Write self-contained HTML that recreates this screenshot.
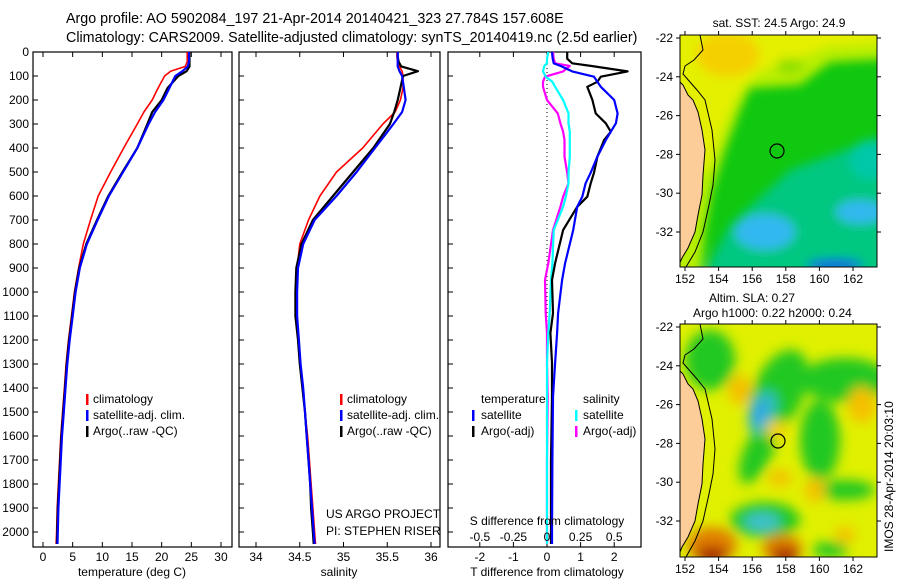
<!DOCTYPE html>
<html><head><meta charset="utf-8">
<style>
html,body{margin:0;padding:0;background:#fff;}
svg{display:block;font-family:"Liberation Sans",sans-serif;}
text{fill:#000;}
</style></head>
<body>
<svg id="fig" width="900" height="580" viewBox="0 0 900 580" xmlns="http://www.w3.org/2000/svg">
<defs>
<filter id="blur1" x="-50%" y="-50%" width="200%" height="200%"><feGaussianBlur stdDeviation="5"/></filter>
<filter id="blur2" x="-50%" y="-50%" width="200%" height="200%"><feGaussianBlur stdDeviation="6"/></filter>
<clipPath id="clipM1"><rect x="680" y="35" width="197" height="232"/></clipPath>
<clipPath id="clipM2"><rect x="680" y="324" width="197" height="233"/></clipPath>
</defs>
<text x="66" y="23" font-size="14.3">Argo profile: AO 5902084_197 21-Apr-2014 20140421_323 27.784S 157.608E</text>
<text x="66" y="42" font-size="14.3">Climatology: CARS2009. Satellite-adjusted climatology: synTS_20140419.nc (2.5d earlier)</text>

<g id="panels"></g>

<!-- Map 1: SST -->
<g>
<g clip-path="url(#clipM1)">
<rect x="680" y="35" width="197" height="232" fill="#10c810"/>
<g filter="url(#blur1)">
<polygon points="660,0 900,0 900,58 830,62 800,85 750,88 740,110 725,150 712,190 705,230 700,280 660,280" fill="#b8ee00"/>
<polygon points="660,0 900,0 900,42 830,46 790,62 760,72 745,85 735,100 722,130 708,170 660,170" fill="#e4f000"/>
<ellipse cx="728" cy="55" rx="32" ry="22" fill="#f5d000"/>
<ellipse cx="790" cy="66" rx="14" ry="8" fill="#90e000"/>
<polygon points="790,170 900,130 900,280 700,280 730,225" fill="#00c880"/>
<ellipse cx="765" cy="232" rx="30" ry="18" fill="#30b8f0"/>
<ellipse cx="860" cy="212" rx="24" ry="12" fill="#30b8f0"/>
<ellipse cx="835" cy="265" rx="28" ry="6" fill="#1060e0"/>
<ellipse cx="870" cy="160" rx="20" ry="20" fill="#00c8a8"/>
</g>
<polygon points="678,80 683,85 688,95 693,100 698,112 702,130 705,150 703,175 702,195 698,215 695,232 688,248 682,258 678,267 678,80" fill="#fccc99" stroke="#000" stroke-width="1"/>
<polyline points="700,35 703,50 694,60 685,66 683,74 697,90 705,100 712,130 715,160 713,185 709,205 703,232 695,252 686,267" fill="none" stroke="#000" stroke-width="1"/>
<circle cx="777" cy="151" r="7" fill="none" stroke="#000" stroke-width="1.2"/>
</g>
<rect x="680" y="35" width="197" height="232" fill="none" stroke="#000" stroke-width="1"/>
<text x="779" y="27" font-size="12" text-anchor="middle">sat. SST: 24.5 Argo: 24.9</text>
</g>

<!-- Map 2: SLA -->
<g>
<g clip-path="url(#clipM2)">
<rect x="680" y="324" width="197" height="233" fill="#e0f000"/>
<g filter="url(#blur2)">
<ellipse cx="710" cy="360" rx="25" ry="30" fill="#20c820"/>
<ellipse cx="845" cy="380" rx="45" ry="22" fill="#20c820"/>
<ellipse cx="820" cy="440" rx="20" ry="40" fill="#20c820"/>
<ellipse cx="770" cy="390" rx="25" ry="45" fill="#20c820" transform="rotate(25 770 410)"/>
<ellipse cx="758" cy="452" rx="14" ry="34" fill="#20c820" transform="rotate(25 758 452)"/>
<ellipse cx="762" cy="412" rx="12" ry="22" fill="#30b8c8" transform="rotate(25 762 412)"/>
<ellipse cx="758" cy="412" rx="6" ry="10" fill="#30a0f0"/>
<ellipse cx="765" cy="520" rx="35" ry="18" fill="#20c820"/>
<ellipse cx="762" cy="522" rx="18" ry="9" fill="#40c0d0"/>
<ellipse cx="845" cy="490" rx="30" ry="10" fill="#20c820"/>
<ellipse cx="830" cy="550" rx="18" ry="8" fill="#20c820"/>
<ellipse cx="740" cy="390" rx="12" ry="15" fill="#f5c000"/>
<ellipse cx="862" cy="405" rx="14" ry="18" fill="#f5c000"/>
<ellipse cx="776" cy="430" rx="10" ry="10" fill="#f5d000"/>
<ellipse cx="780" cy="478" rx="12" ry="8" fill="#f5c000"/>
<ellipse cx="815" cy="490" rx="10" ry="12" fill="#f5c000"/>
<ellipse cx="845" cy="535" rx="10" ry="8" fill="#f5c000"/>
<ellipse cx="712" cy="545" rx="25" ry="18" fill="#e08000"/>
<ellipse cx="782" cy="548" rx="20" ry="14" fill="#e08000"/>
<ellipse cx="712" cy="555" rx="16" ry="8" fill="#a01000"/>
<ellipse cx="785" cy="556" rx="14" ry="8" fill="#a01000"/>
</g>
<polygon points="678,369 683,374 688,384 693,389 698,401 702,419 705,439 703,464 702,484 698,504 695,521 688,537 682,547 678,557 678,369" fill="#fccc99" stroke="#000" stroke-width="1"/>
<polyline points="700,324 703,339 694,349 685,355 683,363 697,379 705,389 712,419 715,449 713,474 709,494 703,521 695,541 686,557" fill="none" stroke="#000" stroke-width="1"/>
<circle cx="778" cy="441" r="7" fill="none" stroke="#000" stroke-width="1.2"/>
</g>
<rect x="680" y="324" width="197" height="233" fill="none" stroke="#000" stroke-width="1"/>
<text x="709" y="302" font-size="12">Altim. SLA: 0.27</text>
<text x="693" y="317" font-size="12">Argo h1000: 0.22 h2000: 0.24</text>
<text font-size="12" transform="translate(893,552) rotate(-90)">IMOS 28-Apr-2014 20:03:10</text>
</g>
<g id="mapaxes"></g>
</svg>
<script>
// ---- data ----
const depths = [0,20,40,60,80,100,150,200,250,300,400,500,600,700,800,900,1000,1100,1200,1300,1400,1500,1600,1700,1800,1900,2000,2050];
const tempArgo = [24.7,24.7,24.7,24.7,24.2,22.8,21.0,20.0,18.4,17.6,15.9,13.4,11.0,9.1,7.3,6.1,5.4,4.9,4.4,4.0,3.7,3.4,3.1,2.9,2.7,2.5,2.4,2.35];
const tempClim = [24.3,24.3,24.3,24.0,21.5,20.5,19.4,18.4,17.0,15.9,13.6,11.4,9.3,8.0,6.8,6.0,5.3,4.8,4.3,3.9,3.6,3.3,3.0,2.8,2.6,2.4,2.3,2.2];
const tempSat = [24.6,24.6,24.6,24.4,23.5,22.3,21.3,20.3,18.9,17.8,15.9,13.5,11.1,9.2,7.4,6.2,5.5,5.0,4.5,4.1,3.8,3.5,3.2,3.0,2.8,2.6,2.5,2.45];
const salArgo = [35.62,35.62,35.63,35.66,35.85,35.68,35.65,35.62,35.58,35.53,35.34,35.11,34.88,34.65,34.52,34.46,34.45,34.45,34.48,34.50,34.53,34.56,34.58,34.60,34.62,34.63,34.65,34.66];
const salClim = [35.61,35.61,35.62,35.64,35.67,35.68,35.68,35.65,35.59,35.45,35.22,34.92,34.73,34.60,34.50,34.47,34.46,34.46,34.48,34.50,34.53,34.56,34.59,34.61,34.63,34.65,34.67,34.68];
const salSat = [35.62,35.62,35.62,35.62,35.64,35.67,35.69,35.71,35.67,35.57,35.36,35.15,34.92,34.67,34.54,34.48,34.47,34.47,34.49,34.51,34.54,34.56,34.58,34.60,34.62,34.64,34.66,34.67];
const diffDepths = [0,28,47,58,81,103,124,145,200,256,297,332,367,436,503,547,603,645,742,880,950,1088,1171,1296,1437,1700,2000,2050];
const dTArgo = [0.6,0.6,0.75,1.3,2.4,1.6,1.5,1.2,1.35,1.45,1.75,1.9,1.7,1.5,1.4,1.3,1.2,0.9,0.48,0.24,0.15,0.18,0.1,0.15,0.15,0.12,0.12,0.12];
const dTSat = [0.15,0.17,0.2,0.4,0.75,1.4,1.5,1.6,2.0,2.1,2.05,1.9,1.75,1.5,1.3,1.15,1.05,0.9,0.78,0.54,0.45,0.33,0.3,0.24,0.18,0.16,0.15,0.15];
const dSSat = [0.01,0.0,0.0,-0.02,-0.03,-0.01,0.04,0.06,0.12,0.16,0.16,0.17,0.17,0.17,0.16,0.16,0.14,0.12,0.05,0.04,0.03,0.02,0.01,0.0,0.0,0.0,0.0,0.0];
const dSArgo = [0.045,0.05,0.06,0.17,0.12,-0.015,-0.03,-0.03,0.0,0.08,0.1,0.12,0.13,0.13,0.15,0.16,0.12,0.1,0.045,0.01,-0.015,-0.01,0.0,0.0,0.005,0.0,0.0,0.0];
const depthTicks = [0,100,200,300,400,500,600,700,800,900,1000,1100,1200,1300,1400,1500,1600,1700,1800,1900,2000];
const tempTicks = [0,5,10,15,20,25,30];
const salTicks = [34,34.5,35,35.5,36];
const salTickLabels = ["34","34.5","35","35.5","36"];
const dTTicks = [-2,-1,0,1,2];
const dSTicks = [-0.5,-0.25,0,0.25,0.5];
const lonTicks = [152,154,156,158,160,162];
const latTicks = [-22,-24,-26,-28,-30,-32];

const NS = "http://www.w3.org/2000/svg";
function mk(tag, attrs, parent){const e=document.createElementNS(NS,tag);for(const k in attrs)e.setAttribute(k,attrs[k]);parent.appendChild(e);return e;}
const yD = d => 52 + 0.24*d;
const xT = t => 43 + 5.933*t;
const xS = s => 256 + 87.5*(s-34);
const xDT = v => 547 + 33.6*v;
const xDS = v => 547 + 134.4*v;
const panels = document.getElementById('panels');
const TOP=52, BOT=547;

function frame(x0,x1,name){
  const r = mk('rect',{x:x0,y:TOP,width:x1-x0,height:BOT-TOP,fill:'none',stroke:'#000','stroke-width':1.2},panels);
  
  
  depthTicks.forEach(d=>{
    mk('line',{x1:x0,x2:x0+5,y1:yD(d),y2:yD(d),stroke:'#000'},panels);
  });
}
function xticks(vals,labels,fx,yl,name){
  vals.forEach((v,i)=>{
    const x=fx(v);
    mk('line',{x1:x,x2:x,y1:TOP,y2:TOP+5,stroke:'#000'},panels);
    mk('line',{x1:x,x2:x,y1:BOT,y2:BOT-5,stroke:'#000'},panels);
    const t=mk('text',{x:x,y:yl,'font-size':12,'text-anchor':'middle'},panels);
    
    
    t.textContent=labels[i];
  });
}
function line(xs,ds,fx,color,w,name){
  const pts=xs.map((v,i)=>fx(v).toFixed(1)+','+yD(ds[i]).toFixed(1)).join(' ');
  const p=mk('polyline',{points:pts,fill:'none',stroke:color,'stroke-width':w,'stroke-linejoin':'round'},panels);
  
  
}
function txt(x,y,s,name,anchor){
  const t=mk('text',{x:x,y:y,'font-size':12,'text-anchor':anchor||'start'},panels);
  
  
  t.textContent=s;
}
function mark(x,y,color){mk('rect',{x:x,y:y-9,width:2.5,height:11,fill:color},panels);}

depthTicks.forEach(d=>{
  const t=mk('text',{x:29,y:yD(d)+4,'font-size':12,'text-anchor':'end'},panels);
  
  
  t.textContent=d;
});

frame(33,232,'temperature-panel');
xticks(tempTicks,tempTicks.map(String),xT,561,'temperature-tick-label');
line(tempClim,depths,xT,'#ff0000',1.6,'temperature-climatology-line');
line(tempArgo,depths,xT,'#000000',2.2,'temperature-argo-line');
line(tempSat,depths,xT,'#0000ff',2.2,'temperature-satellite-line');
txt(132,576,'temperature (deg C)','temperature-axis-title','middle');
mark(86,403,'#ff0000'); txt(93,403,'climatology','legend-climatology');
mark(86,419,'#0000ff'); txt(93,419,'satellite-adj. clim.','legend-satellite');
mark(86,435,'#000000'); txt(93,435,'Argo(..raw -QC)','legend-argo');

frame(239,440,'salinity-panel');
xticks(salTicks,salTickLabels,xS,561,'salinity-tick-label');
line(salClim,depths,xS,'#ff0000',1.6,'salinity-climatology-line');
line(salArgo,depths,xS,'#000000',2.2,'salinity-argo-line');
line(salSat,depths,xS,'#0000ff',2.2,'salinity-satellite-line');
txt(339,576,'salinity','salinity-axis-title','middle');
mark(340,403,'#ff0000'); txt(347,403,'climatology','legend-climatology-2');
mark(340,419,'#0000ff'); txt(347,419,'satellite-adj. clim.','legend-satellite-2');
mark(340,435,'#000000'); txt(347,435,'Argo(..raw -QC)','legend-argo-2');
txt(326,518,'US ARGO PROJECT','project-label');
txt(326,535,'PI: STEPHEN RISER','pi-label');

frame(448,641,'difference-panel');
xticks(dTTicks,dTTicks.map(String),xDT,561,'t-difference-tick-label');
mk('line',{x1:547,x2:547,y1:TOP,y2:BOT,stroke:'#000','stroke-dasharray':'1,3'},panels);
line(dSArgo,diffDepths,xDS,'#ff00ff',2.2,'salinity-argo-difference-line');
line(dSSat,diffDepths,xDS,'#00ffff',2.2,'salinity-satellite-difference-line');
line(dTArgo,diffDepths,xDT,'#000000',2.2,'temperature-argo-difference-line');
line(dTSat,diffDepths,xDT,'#0000ff',2.2,'temperature-satellite-difference-line');
dSTicks.forEach((v,i)=>{txt(xDS(v),541,String(v),'s-difference-tick-label','middle');});
txt(547,525,'S difference from climatology','s-difference-axis-title','middle');
txt(547,576,'T difference from climatology','t-difference-axis-title','middle');
txt(481,403,'temperature','legend-temperature-header');
mark(472,419,'#0000ff'); txt(481,419,'satellite','legend-t-satellite');
mark(472,435,'#000000'); txt(481,435,'Argo(-adj)','legend-t-argo');
txt(583,403,'salinity','legend-salinity-header');
mark(575,419,'#00ffff'); txt(583,419,'satellite','legend-s-satellite');
mark(575,435,'#ff00ff'); txt(583,435,'Argo(-adj)','legend-s-argo');

const ma=document.getElementById('mapaxes');
const xLon = l => 685 + 16.8*(l-152);
const yLat = (l,top) => top + 3 + 19.4*(-22-l);
[35,324].forEach(top=>{
  const bot = top===35?267:557;
  lonTicks.forEach(l=>{
    const x=xLon(l);
    mk('line',{x1:x,x2:x,y1:top,y2:top-4,stroke:'#000'},ma);
    mk('line',{x1:x,x2:x,y1:bot,y2:bot+4,stroke:'#000'},ma);
    const t=mk('text',{x:x,y:bot+16,'font-size':12,'text-anchor':'middle'},ma);
    
    
    t.textContent=l;
  });
  latTicks.forEach(l=>{
    const y=yLat(l,top);
    mk('line',{x1:680,x2:676,y1:y,y2:y,stroke:'#000'},ma);
    mk('line',{x1:877,x2:881,y1:y,y2:y,stroke:'#000'},ma);
    const t=mk('text',{x:673,y:y+4,'font-size':12,'text-anchor':'end'},ma);
    
    
    t.textContent=l;
  });
});
</script>
</body></html>
